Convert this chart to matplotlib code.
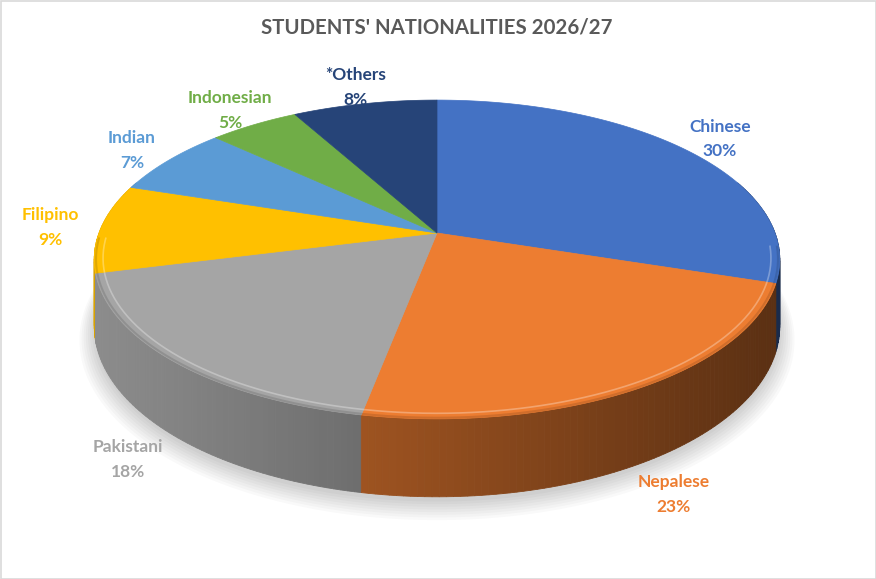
import numpy as np
import matplotlib.pyplot as plt
from matplotlib.patches import Polygon, Rectangle

nationalities = ['Chinese', 'Nepalese', 'Pakistani', 'Filipino', 'Indian', 'Indonesian', '*Others']
shares = [30, 23, 18, 9, 7, 5, 8]
colors = ['#4472C4', '#ED7D31', '#A5A5A5', '#FFC000', '#5B9BD5', '#70AD47', '#264478']
title = "STUDENTS' NATIONALITIES 2026/27"

# projection of the unit disc (pixel space of the picture)
CX, CY = 437, 233
A, B, K = 338, 155, -0.166
DEPTH = 65


def proj(u, v, drop=0.0):
    w = 1 + K * v
    return CX + A * u / w, CY + (B * v + drop) / w


def rim(theta, r=1.0, drop=0.0):
    # theta: radians, clockwise from 12 o'clock
    u = r * np.sin(theta)
    v = -r * np.cos(theta)
    return proj(u, v, drop)


def shade(hexcol, f):
    c = np.array(plt.matplotlib.colors.to_rgb(hexcol))
    return tuple(np.clip(c * f, 0, 1))


def main():
    plt.rcParams['font.family'] = ['Lato', 'DejaVu Sans']
    fig = plt.figure(figsize=(8.76, 5.79), dpi=100)
    ax = fig.add_axes([0, 0, 1, 1])
    ax.set_xlim(0, 876)
    ax.set_ylim(579, 0)
    ax.axis('off')

    total = float(sum(shares))
    bounds = np.concatenate([[0], np.cumsum(shares)]) / total * 2 * np.pi

    # soft shadow under the pie
    t = np.linspace(0, 2 * np.pi, 200)
    for i in range(8):
        sx, sy = rim(t, 1.0 + 0.006 * i, DEPTH + 4 + i)
        ax.add_patch(Polygon(np.column_stack([sx, sy]), closed=True,
                             facecolor='#000000', edgecolor='none', alpha=0.025, zorder=1))

    # side walls
    quads = []
    for i in range(len(shares)):
        a0 = max(bounds[i], np.radians(70))
        a1 = min(bounds[i + 1], np.radians(290))
        if a1 <= a0:
            continue
        n = max(2, int(np.degrees(a1 - a0)))
        th = np.linspace(a0, a1, n + 1)
        for j in range(n):
            ta, tb = th[j], th[j + 1]
            x0, y0 = rim(ta)
            x1, y1 = rim(tb)
            x2, y2 = rim(tb, 1.0, DEPTH)
            x3, y3 = rim(ta, 1.0, DEPTH)
            xm = (x0 + x1) / 2
            f = np.clip(0.85 - 0.47 * (xm - 95) / 685, 0.36, 0.9)
            vm = -np.cos((ta + tb) / 2)
            quads.append((vm, [[x0, y0], [x1, y1], [x2, y2], [x3, y3]], shade(colors[i], f)))
    quads.sort(key=lambda q: q[0])
    for vm, pts, col in quads:
        ax.add_patch(Polygon(pts, closed=True, facecolor=col, edgecolor=col,
                             linewidth=0.6, zorder=2))

    # top faces
    for i in range(len(shares)):
        th = np.linspace(bounds[i], bounds[i + 1], 120)
        x, y = rim(th)
        pts = np.vstack([[CX, CY], np.column_stack([x, y])])
        ax.add_patch(Polygon(pts, closed=True, facecolor=colors[i], edgecolor=colors[i],
                             linewidth=0.5, zorder=3))

    # bevel highlight on the front rim
    th = np.radians(np.linspace(95, 268, 200))
    x, y = rim(th, 0.975)
    ax.plot(x, y, color='white', alpha=0.3, linewidth=1.2, zorder=4)
    x, y = rim(th, 0.995)
    ax.plot(x, y, color='black', alpha=0.12, linewidth=1.5, zorder=4)

    # labels
    for i, name in enumerate(nationalities):
        mid = (bounds[i] + bounds[i + 1]) / 2
        r = 1.15
        u, v = r * np.sin(mid), -r * np.cos(mid)
        drop = DEPTH * np.clip(v * 2, 0, 1.0)
        lx, ly = proj(u, v, drop)
        ax.text(lx, ly, '%s\n%d%%' % (name, round(shares[i] / total * 100)),
                ha='center', va='center', fontsize=12.5, fontweight='bold',
                color=colors[i], linespacing=1.65, zorder=5)

    ax.text(437, 28, title, ha='center', va='center', fontsize=14.7,
            fontweight='bold', color='#595959', zorder=5)

    ax.add_patch(Rectangle((0.5, 0.5), 875, 578, facecolor='none', edgecolor='#D9D9D9',
                           linewidth=1.2, zorder=6))

    fig.savefig('out.png', dpi=100)
    plt.close(fig)


if __name__ == "__main__":
    main()
